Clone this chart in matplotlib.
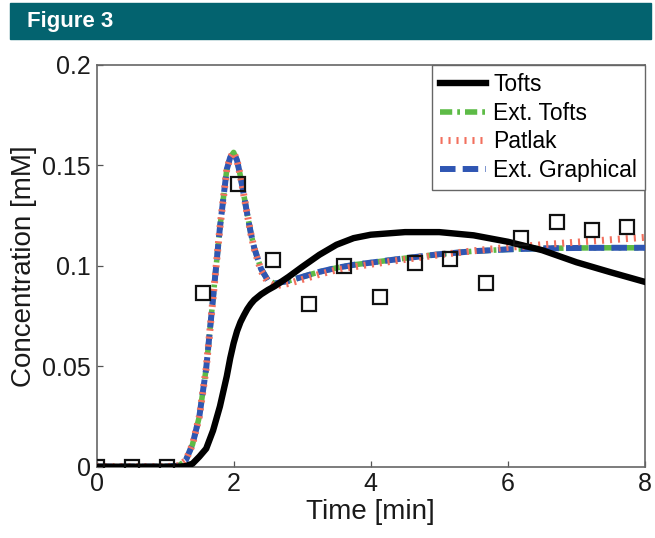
import matplotlib
matplotlib.use("Agg")
import matplotlib.pyplot as plt
from matplotlib.patches import Rectangle

# ── Data ────────────────────────────────────────────────────────────────

t_obs = [0, 0.52, 1.03, 1.55, 2.06, 2.58, 3.10, 3.61, 4.13, 4.65,
         5.16, 5.68, 6.19, 6.71, 7.23, 7.74]
c_obs = [0, 0, 0, 0.0866, 0.141, 0.1028, 0.081, 0.0997, 0.0844, 0.1015,
         0.1032, 0.0915, 0.1139, 0.1216, 0.1178, 0.1194]

t_model = [0, 0.5, 1.0, 1.2, 1.3, 1.4, 1.5, 1.6, 1.7, 1.8, 1.9, 1.95, 2.0,
           2.05, 2.1, 2.15, 2.2, 2.25, 2.3, 2.4, 2.5, 2.6, 2.8, 3.0, 3.25,
           3.5, 3.75, 4.0, 4.5, 5.0, 5.5, 6.0, 6.5, 7.0, 7.5, 8.0]

c_tofts = [0, 0, 0, 0, 0.0003, 0.0015, 0.005, 0.009, 0.018, 0.030, 0.045,
           0.054, 0.0615, 0.0675, 0.0720, 0.0754, 0.0785, 0.0810, 0.0830,
           0.0858, 0.0880, 0.0899, 0.0945, 0.0995, 0.1055, 0.1105, 0.1138,
           0.1155, 0.1168, 0.1168, 0.1152, 0.1120, 0.1078, 0.1018, 0.0968,
           0.0920]

c_ext_tofts = [0, 0, 0, 0.0005, 0.003, 0.011, 0.025, 0.049, 0.084, 0.119,
               0.148, 0.1540, 0.1565, 0.1525, 0.1445, 0.1350, 0.1255,
               0.1165, 0.1090, 0.0985, 0.0928, 0.0912, 0.0925, 0.0945,
               0.0970, 0.0990, 0.1005, 0.1016, 0.1038, 0.1058, 0.1073,
               0.1082, 0.1087, 0.1089, 0.1090, 0.1090]

c_patlak = [0, 0, 0, 0.0005, 0.003, 0.011, 0.025, 0.049, 0.084, 0.119,
            0.148, 0.1540, 0.1565, 0.1525, 0.1445, 0.1350, 0.1255, 0.1162,
            0.1085, 0.0975, 0.0918, 0.0900, 0.0912, 0.0932, 0.0958, 0.0980,
            0.0995, 0.1008, 0.1032, 0.1055, 0.1075, 0.1092, 0.1105, 0.1118,
            0.1130, 0.1142]

c_ext_graph = [0, 0, 0, 0.0005, 0.003, 0.011, 0.025, 0.049, 0.084, 0.119,
               0.148, 0.1540, 0.1565, 0.1525, 0.1445, 0.1350, 0.1255,
               0.1165, 0.1090, 0.0985, 0.0928, 0.0912, 0.0925, 0.0945,
               0.0970, 0.0990, 0.1005, 0.1016, 0.1038, 0.1058, 0.1073,
               0.1082, 0.1087, 0.1089, 0.1090, 0.1090]

x_ticks = [0, 2, 4, 6, 8]
y_ticks = [0, 0.05, 0.1, 0.15, 0.2]
y_tick_labels = ["0", "0.05", "0.1", "0.15", "0.2"]

# ── Plot ────────────────────────────────────────────────────────────────

plt.rcParams["font.family"] = ["Liberation Sans", "DejaVu Sans"]

W, H = 655, 538
fig = plt.figure(figsize=(W / 100, H / 100), dpi=100)

# teal header bar
fig.patches.append(Rectangle((10 / W, 1 - 39 / H), 641 / W, 36 / H,
                             transform=fig.transFigure, color="#03636F",
                             zorder=0))
fig.text(27 / W, 1 - 22 / H, "Figure 3", color="white", fontsize=16,
         fontweight="bold", va="center", ha="left")

ax = fig.add_axes([96.5 / W, 1 - 466.7 / H, (645 - 96.5) / W,
                   (466.7 - 65) / H])

ax.plot(t_model, c_tofts, color="black", lw=4.6, label="Tofts", zorder=5,
        solid_joinstyle="round")
ax.plot(t_model, c_ext_tofts, color="#5DBB46", lw=4.0,
        dashes=(2.2, 0.9, 0.5, 0.9), dash_capstyle="butt",
        label="Ext. Tofts", zorder=2)
ax.plot(t_model, c_patlak, color="#F2705E", lw=5.0, dashes=(0.3, 0.85),
        dash_capstyle="butt", label="Patlak", zorder=4)
ax.plot(t_model, c_ext_graph, color="#2F56B3", lw=4.3, dashes=(2.6, 1.2),
        dash_capstyle="butt", label="Ext. Graphical", zorder=3)
ax.plot(t_obs, c_obs, ls="none", marker="s", markersize=9.5,
        markerfacecolor="none", markeredgecolor="#111111",
        markeredgewidth=1.6, zorder=6)

ax.set_xlim(0, 8)
ax.set_ylim(0, 0.2)
ax.set_xticks(x_ticks)
ax.set_yticks(y_ticks)
ax.set_yticklabels(y_tick_labels)
ax.tick_params(direction="in", length=4, width=0.9, color="#555555",
               labelsize=18, labelcolor="#1a1a1a", pad=4)
for sp in ax.spines.values():
    sp.set_color("#666666")
    sp.set_linewidth(1.2)

ax.set_xlabel("Time [min]", fontsize=20, color="#1a1a1a", labelpad=2)
ax.set_ylabel("Concentration [mM]", fontsize=20, color="#1a1a1a",
              labelpad=4)

leg = ax.legend(loc="upper right", borderaxespad=0, fontsize=16.5,
                handlelength=2.0, handletextpad=0.3, labelspacing=0.25,
                borderpad=0.35, fancybox=False, framealpha=1)
leg.get_frame().set_edgecolor("#666666")
leg.get_frame().set_linewidth(1.0)

fig.savefig("out.png", dpi=100)
